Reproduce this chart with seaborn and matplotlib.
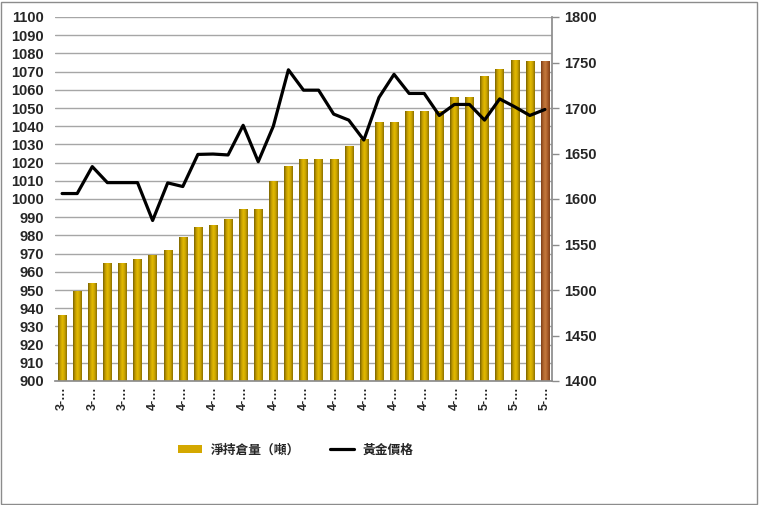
import numpy as np
import pandas as pd
import matplotlib
matplotlib.use("Agg")
import matplotlib.pyplot as plt
import seaborn as sns
from matplotlib.colors import LinearSegmentedColormap
from matplotlib.patches import Patch, Rectangle
from matplotlib.lines import Line2D

# ---- data ----
categories = [f"b{i:02d}" for i in range(33)]
holdings = [936, 949, 953.5, 964.5, 964.5, 966.7, 969, 971.6, 978.7, 984.2,
            985.3, 988.6, 994, 994, 1009.6, 1017.6, 1021.5, 1021.5, 1021.5, 1029.1,
            1032.8, 1042.3, 1042.3, 1048.3, 1048.3, 1048.3, 1056, 1056, 1067.5, 1071.3,
            1076.3, 1075.7, 1075.7]
gold_price = [1606, 1606, 1635.6, 1618, 1618, 1618, 1576.4, 1617.7, 1613.7, 1649,
              1649.4, 1648.4, 1681, 1641, 1680, 1742, 1719.6, 1719.6, 1693.3, 1686.7,
              1664.8, 1711.5, 1737, 1716, 1716, 1691.8, 1703.9, 1703.9, 1686.7, 1710,
              1701.3, 1691.8, 1698.4]
tick_labels = ["3-…", "3-…", "3-…", "4-…", "4-…", "4-…", "4-…", "4-…", "4-…", "4-…",
               "4-…", "4-…", "4-…", "4-…", "5-…", "5-…", "5-…"]
legend_labels = ["淨持倉量（噸）", "黃金價格"]

df = pd.DataFrame({"cat": categories, "holdings": holdings, "price": gold_price})
df["pos"] = np.arange(len(df))

sns.set_theme(style="white")
plt.rcParams["font.family"] = ["Liberation Sans", "Noto Sans CJK TC", "DejaVu Sans"]

fig = plt.figure(figsize=(7.59, 5.05), dpi=100)
ax = fig.add_axes([55 / 759, 1 - 381 / 505, (552 - 55) / 759, (381 - 17) / 505])

sns.barplot(data=df, x="cat", y="holdings", ax=ax, width=0.55, color="#D4A800",
            saturation=1, linewidth=0)

YMIN, YMAX = 900, 1100
gold_cmap = LinearSegmentedColormap.from_list(
    "gold", ["#786200", "#c29c00", "#e3bb00", "#c9a200", "#8a7000"])
brown_cmap = LinearSegmentedColormap.from_list(
    "brown", ["#7a3c15", "#b0642e", "#c47a3e", "#a85a28", "#7f4018"])
grad = np.linspace(0, 1, 64).reshape(1, -1)
for i, p in enumerate(ax.patches):
    x0 = p.get_x()
    w = p.get_width()
    top = p.get_y() + p.get_height()
    cmap = brown_cmap if i == len(ax.patches) - 1 else gold_cmap
    ax.imshow(grad, cmap=cmap, aspect="auto", extent=[x0, x0 + w, YMIN, top],
              zorder=p.get_zorder(), interpolation="bilinear")
    p.set_facecolor("none")

ax.set_xlim(-0.47, 32.47)
ax.set_ylim(YMIN, YMAX)
ax.set_yticks(np.arange(900, 1101, 10))
ax.yaxis.grid(True, color="#a6a6a6", linewidth=1)
ax.set_axisbelow(True)
ax.set_xticks(np.arange(0, 33, 2))
ax.set_xticklabels(tick_labels, rotation=90, fontsize=9, fontweight="bold")
ax.set_xlabel("")
ax.set_ylabel("")
ax.tick_params(axis="y", length=0, pad=8, labelsize=10.5)
ax.tick_params(axis="x", length=0, pad=4)
for lab in ax.get_yticklabels():
    lab.set_fontweight("bold")
for s in ["left", "top", "right"]:
    ax.spines[s].set_visible(False)
ax.spines["bottom"].set_color("#8c8c8c")

ax2 = ax.twinx()
sns.lineplot(data=df, x="pos", y="price", ax=ax2, color="black", linewidth=2.3)
ax2.set_ylim(1400, 1800)
ax2.set_yticks(np.arange(1400, 1801, 50))
ax2.set_ylabel("")
ax2.set_xlim(-0.47, 32.47)
ax2.tick_params(axis="y", length=5, color="#8c8c8c", width=1, pad=4, labelsize=10.5)
for lab in ax2.get_yticklabels():
    lab.set_fontweight("bold")
for s in ["left", "top", "bottom"]:
    ax2.spines[s].set_visible(False)
ax2.spines["right"].set_color("#8c8c8c")
ax2.grid(False)

handles = [Patch(facecolor="#D4A800", edgecolor="none"),
           Line2D([0], [0], color="black", linewidth=2.3)]
fig.legend(handles, legend_labels, loc="center", bbox_to_anchor=(296 / 759, 1 - 450 / 505),
           ncol=2, frameon=False, handlelength=1.9, handleheight=0.5, columnspacing=2.3,
           handletextpad=0.7,
           prop={"family": ["Noto Sans CJK TC"], "weight": "bold", "size": 9.2})

fig.patches.append(Rectangle((0.001, 0.002), 0.996, 0.995, transform=fig.transFigure,
                             fill=False, edgecolor="#8c8c8c", linewidth=1))

fig.savefig("out.png", dpi=100)
